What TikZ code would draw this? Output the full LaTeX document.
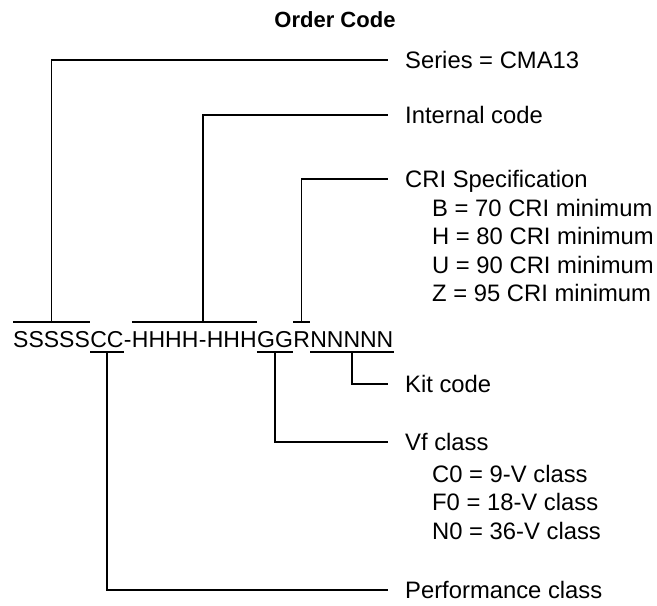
\documentclass[tikz,border=0pt]{standalone}
\usepackage{fontspec}
\setmainfont{Liberation Sans}
\newcommand{\codefont}{\fontsize{23}{28.4}\selectfont}
\newcommand{\lblfont}{\fontsize{23.8}{28.4}\selectfont}
\tikzset{
  codepart/.style={inner sep=0pt, anchor=base west, font=\codefont},
  leader/.style={line width=1.8pt},
  lbl/.style={anchor=west, inner xsep=17pt, inner ysep=0pt, text depth=0pt, font=\lblfont},
  sublist/.style={anchor=north west, inner sep=0pt, align=left, font=\lblfont},
}
\begin{document}
\begin{tikzpicture}[x=1pt,y=-1pt]
  \useasboundingbox (0,0) rectangle (657,606);
  \node[font=\fontsize{22}{26}\selectfont\bfseries] (title) at (335,20) {Order Code};
  % the code string, piece by piece
  \node[codepart] (S) at (13,347) {SSSSS};
  \node[codepart] (C) at (S.base east) {CC};
  \node[codepart] (d1) at (C.base east) {-};
  \node[codepart] (H1) at (d1.base east) {HHHH};
  \node[codepart] (d2) at (H1.base east) {-};
  \node[codepart] (H2) at (d2.base east) {HHH};
  \node[codepart] (G) at (H2.base east) {GG};
  \node[codepart] (R) at (G.base east) {R};
  \node[codepart] (N) at (R.base east) {NNNNN};
  \coordinate (top) at (0,322);
  \coordinate (bot) at (0,352);
  % labels
  \node[lbl] (series) at (388,60) {Series = CMA13};
  \node[lbl] (internal) at (388,115) {Internal code};
  \node[lbl] (cri) at (388,179) {CRI Specification};
  \node[sublist] (crilist) at (432,199) {B = 70 CRI minimum\\H = 80 CRI minimum\\U = 90 CRI minimum\\Z = 95 CRI minimum};
  \node[lbl] (kit) at (388,384) {Kit code};
  \node[lbl] (vf) at (388,442) {Vf class};
  \node[sublist] (vflist) at (432,465) {C0 = 9-V class\\F0 = 18-V class\\N0 = 36-V class};
  \node[lbl] (perf) at (388,590) {Performance class};
  % brackets over and under the code
  \draw[leader] (S.west |- top) -- (S.east |- top);
  \draw[leader] (H1.west |- top) -- (H2.east |- top);
  \draw[leader] (R.west |- top) -- (R.east |- top);
  \draw[leader] (C.west |- bot) -- (C.east |- bot);
  \draw[leader] (G.west |- bot) -- (G.east |- bot);
  \draw[leader] (N.west |- bot) -- (N.east |- bot);
  % leaders to the labels
  \draw[leader] (S.center |- top) |- (series.west);
  \draw[leader] (d2.center |- top) |- (internal.west);
  \draw[leader] (R.center |- top) |- (cri.west);
  \draw[leader] (N.center |- bot) |- (kit.west);
  \draw[leader] (G.center |- bot) |- (vf.west);
  \draw[leader] (C.center |- bot) |- (perf.west);
\end{tikzpicture}
\end{document}
